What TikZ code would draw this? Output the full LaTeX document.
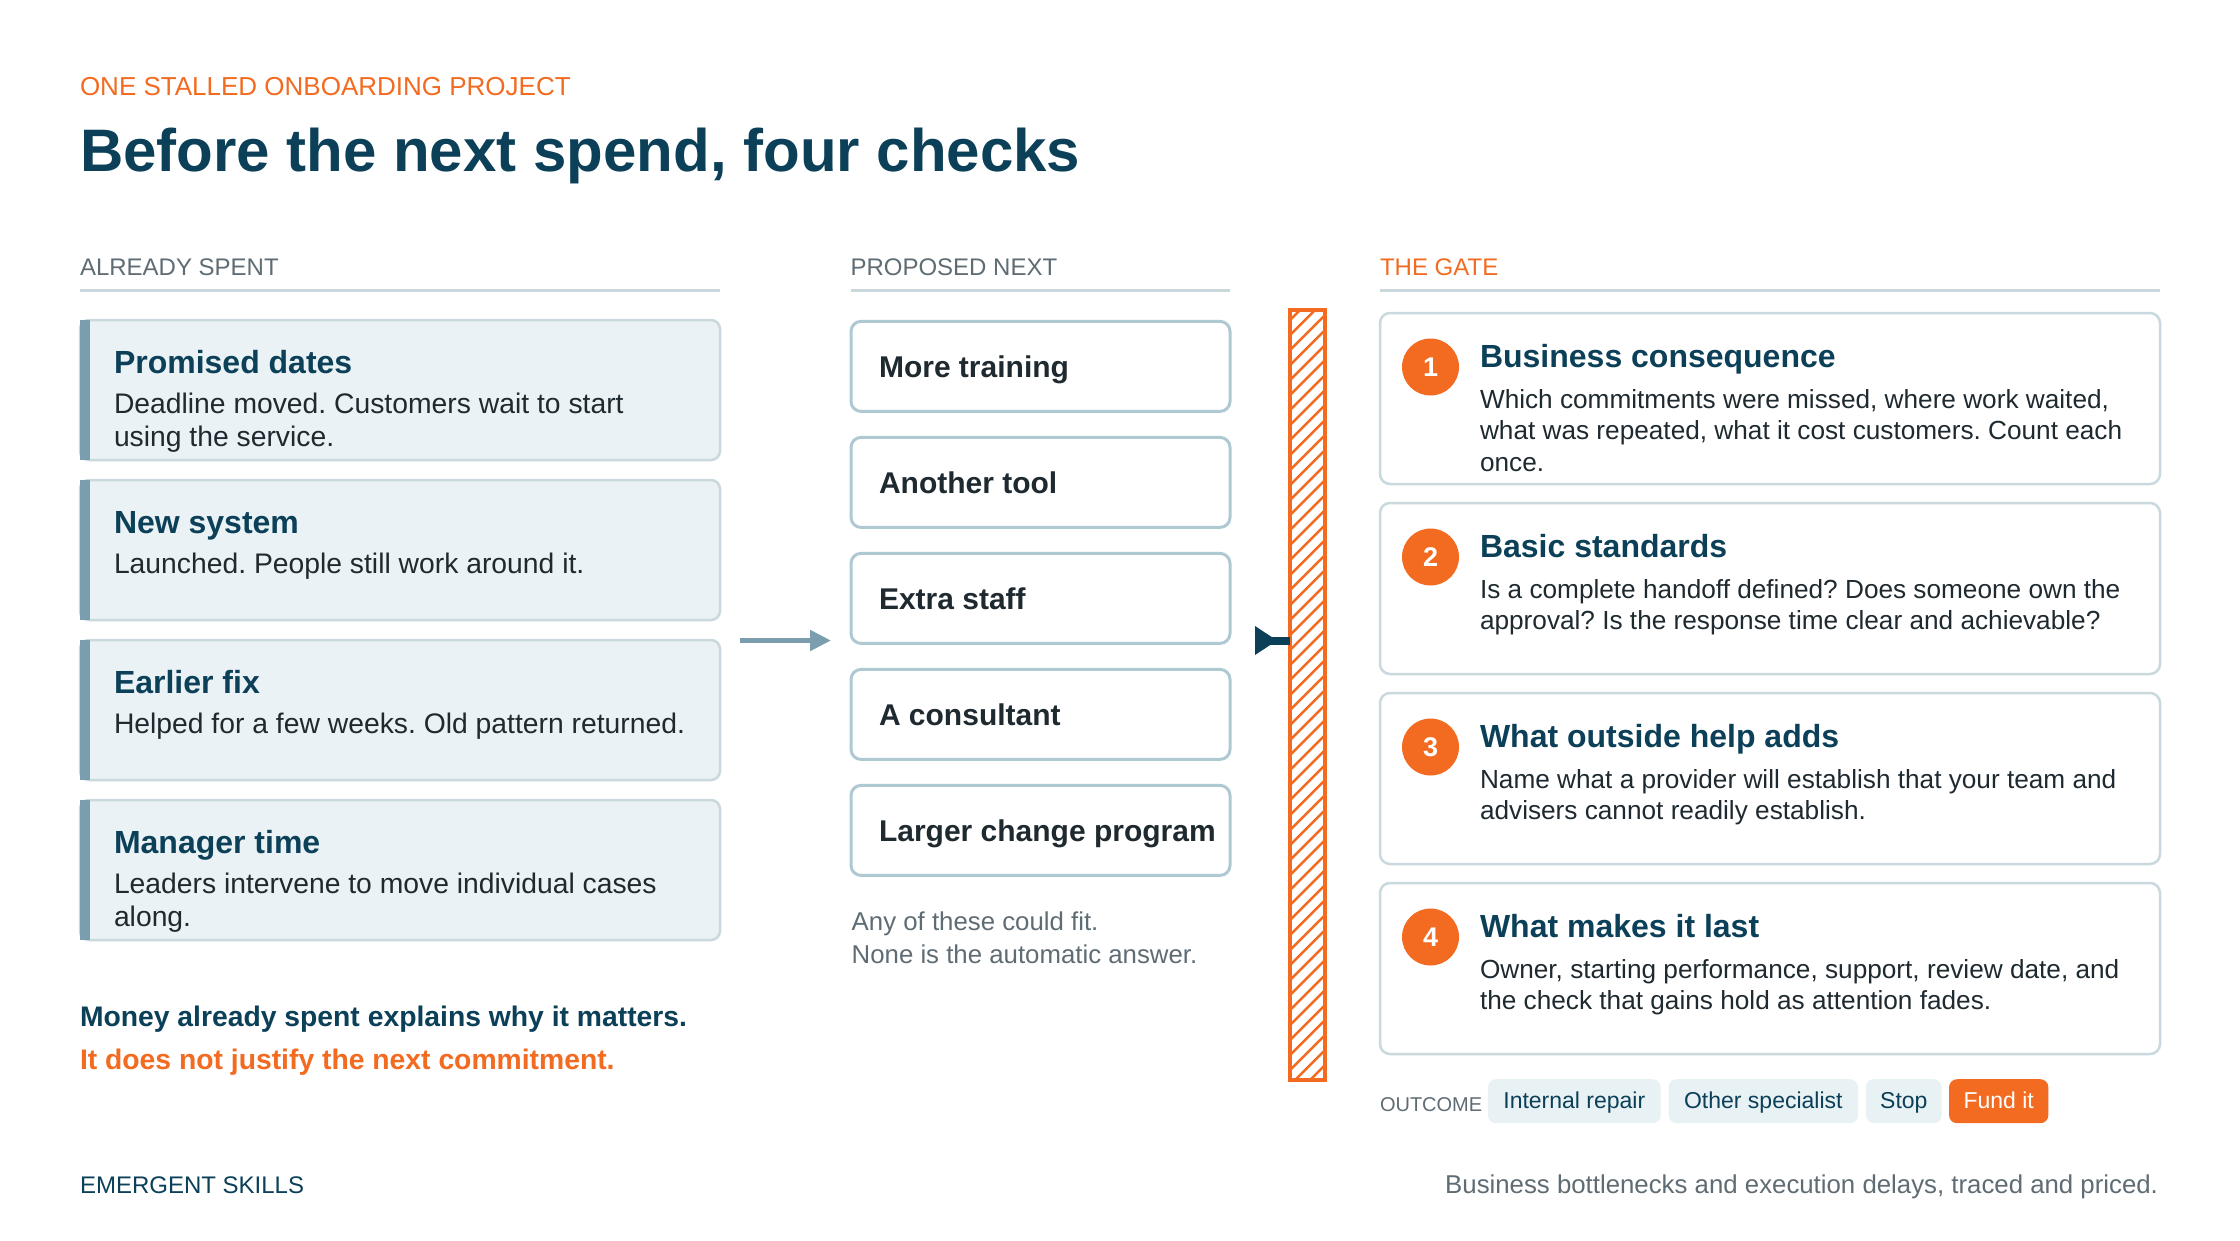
\documentclass[tikz,border=0pt]{standalone}
\usepackage{fontspec}
\setmainfont{Liberation Sans}
\usetikzlibrary{arrows.meta}
\definecolor{ink}{HTML}{0B4058}
\definecolor{org}{HTML}{F26B21}
\definecolor{gry}{HTML}{5F6C74}
\definecolor{bodyc}{HTML}{1F2A30}
\definecolor{lfill}{HTML}{EAF2F5}
\definecolor{lborder}{HTML}{C9D9DE}
\definecolor{accent}{HTML}{7A9EAE}
\definecolor{mborder}{HTML}{AFC9D3}
\definecolor{rulec}{HTML}{C9D6DB}
\definecolor{pillc}{HTML}{E8F1F4}
\newcommand{\fsz}[1]{\fontsize{#1}{#1}\selectfont}
\tikzset{
  txt/.style={inner sep=0, outer sep=0, anchor=base west},
  ltitle/.style={txt, font=\fsz{32}\bfseries, text=ink},
  lbody/.style={txt, font=\fsz{28.3}, text=bodyc},
  rbody/.style={txt, font=\fsz{26.2}, text=bodyc},
  mtext/.style={txt, font=\fsz{30}\bfseries, text=bodyc},
  header/.style={txt, font=\fsz{24}, text=gry},
  note/.style={txt, font=\fsz{25.8}, text=gry},
  lbox/.style={draw=lborder, fill=lfill, line width=2.5, rounded corners=9, minimum width=640, minimum height=140, inner sep=0, outer sep=0},
  mbox/.style={draw=mborder, fill=white, line width=3, rounded corners=10, minimum width=379, minimum height=90, inner sep=0, outer sep=0},
  rbox/.style={draw=lborder, fill=white, line width=2.5, rounded corners=10, minimum width=780, minimum height=171, inner sep=0, outer sep=0},
  numc/.style={circle, fill=org, minimum size=57, inner sep=0, outer sep=0, text=white, font=\fsz{27}\bfseries},
  pillbox/.style={fill=pillc, rounded corners=8, minimum height=44, inner sep=0, outer sep=0, text=ink, font=\fsz{23}, text height=15, text depth=0},
  rulel/.style={draw=rulec, line width=2.7},
}
\begin{document}
\frenchspacing
\begin{tikzpicture}[x=1pt,y=-1pt]
\useasboundingbox (0,0) rectangle (2240,1240);
\fill[white] (0,0) rectangle (2240,1240);

% heading
\node[txt, font=\fsz{26}, text=org] (sub) at (80,95) {ONE STALLED ONBOARDING PROJECT};
\node[txt, font=\fsz{60}\bfseries, text=ink] (title) at (80,171.7) {Before the next spend, four checks};

% column headers
\node[header] (h1) at (80,275) {ALREADY SPENT};
\node[header] (h2) at (850.5,275) {PROPOSED NEXT};
\node[header, text=org] (h3) at (1380,275) {THE GATE};
\draw[rulel] (80,290.7) -- (720,290.7);
\draw[rulel] (850.5,290.7) -- (1230,290.7);
\draw[rulel] (1380,290.7) -- (2160,290.7);

% left boxes
\foreach \i/\t in {1/320,2/480,3/640,4/800} {
  \node[lbox] (L\i) at (400,\t+70) {};
  \fill[accent] (L\i.north west) rectangle ([xshift=10pt]L\i.south west);
}
\node[ltitle] (L1t) at (114,373.5) {Promised dates};
\node[lbody] (L1a) at (114,413.5) {Deadline moved. Customers wait to start};
\node[lbody] (L1b) at (114,446.8) {using the service.};
\node[ltitle] (L2t) at (114,533.5) {New system};
\node[lbody] (L2a) at (114,573.5) {Launched. People still work around it.};
\node[ltitle] (L3t) at (114,693.5) {Earlier fix};
\node[lbody] (L3a) at (114,733.5) {Helped for a few weeks. Old pattern returned.};
\node[ltitle] (L4t) at (114,853.5) {Manager time};
\node[lbody] (L4a) at (114,893.5) {Leaders intervene to move individual cases};
\node[lbody] (L4b) at (114,926.8) {along.};

% bottom-left statement
\node[txt, font=\fsz{28.3}\bfseries, text=ink] (m1) at (80,1026.7) {Money already spent explains why it matters.};
\node[txt, font=\fsz{28.3}\bfseries, text=org] (m2) at (80,1069.3) {It does not justify the next commitment.};

% middle boxes
\foreach \i/\c/\s in {1/366.4/More training,2/482.4/Another tool,3/598.4/Extra staff,4/714.4/A consultant,5/830.4/Larger change program} {
  \node[mbox] (M\i) at (1040.5,\c) {};
  \node[mtext] (M\i t) at (879,\c+10.7) {\s};
}
\node[note] (n1) at (851.7,930) {Any of these could fit.};
\node[note] (n2) at (851.7,963.3) {None is the automatic answer.};

% arrow into the proposals
\coordinate (a1s) at (740,640.5);
\coordinate (a1e) at (831,640.5);
\draw[accent, line width=5, -{Triangle[length=21pt,width=20pt]}] (a1s) -- (a1e);

% gate bar
\node[minimum width=35, minimum height=770, inner sep=0, outer sep=0] (bar) at (1307.5,695) {};
\begin{scope}
  \clip (bar.north west) rectangle (bar.south east);
  \foreach \k in {0,...,56} \draw[org, line width=2.5] (1285,310+\k*15) -- ++(50,-50);
\end{scope}
\draw[org, line width=4] (bar.north west) rectangle (bar.south east);

% arrow into the gate
\coordinate (a2b) at (1255,640.5);
\coordinate (a2s) at (1266,640.5);
\coordinate (a2t) at (1277,640.5);
\draw[ink, line width=8] (a2s) -- (a2s -| bar.west);
\fill[ink] (a2b) ++(0,-14.5) -- (a2t) -- ([yshift=-14.5pt]a2b) -- cycle;

% right boxes
\foreach \i/\t in {1/313,2/503,3/693,4/883} {
  \node[rbox] (R\i) at (1770,\t+85.5) {};
  \node[numc] (C\i) at (1430.5,\t+54) {\i};
}
\node[ltitle] (R1t) at (1480,367) {Business consequence};
\node[rbody] (R1a) at (1480,408) {Which commitments were missed, where work waited,};
\node[rbody] (R1b) at (1480,439.7) {what was repeated, what it cost customers. Count each};
\node[rbody] (R1c) at (1480,471.3) {once.};
\node[ltitle] (R2t) at (1480,557) {Basic standards};
\node[rbody] (R2a) at (1480,598) {Is a complete handoff defined? Does someone own the};
\node[rbody] (R2b) at (1480,629.7) {approval? Is the response time clear and achievable?};
\node[ltitle] (R3t) at (1480,747) {What outside help adds};
\node[rbody] (R3a) at (1480,788) {Name what a provider will establish that your team and};
\node[rbody] (R3b) at (1480,819.7) {advisers cannot readily establish.};
\node[ltitle] (R4t) at (1480,937) {What makes it last};
\node[rbody] (R4a) at (1480,978) {Owner, starting performance, support, review date, and};
\node[rbody] (R4b) at (1480,1009.7) {the check that gains hold as attention fades.};

% outcome
\node[txt, font=\fsz{20}, text=gry] (out) at (1380,1111.7) {OUTCOME};
\node[pillbox, minimum width=172.7] (P1) at (1574.3,1101.2) {Internal repair};
\node[pillbox, minimum width=189.4] (P2) at (1763.3,1101.2) {Other specialist};
\node[pillbox, minimum width=75.6] (P3) at (1903.8,1101.2) {Stop};
\node[pillbox, minimum width=99.3, fill=org, text=white] (P4) at (1998.7,1101.2) {Fund it};

% footer
\node[txt, font=\fsz{24}, text=ink] (brand) at (80,1193.3) {EMERGENT SKILLS};
\node[txt, anchor=base east, font=\fsz{25.8}, text=gry] (tag) at (2158,1193.3) {Business bottlenecks and execution delays, traced and priced.};
\end{tikzpicture}
\end{document}
